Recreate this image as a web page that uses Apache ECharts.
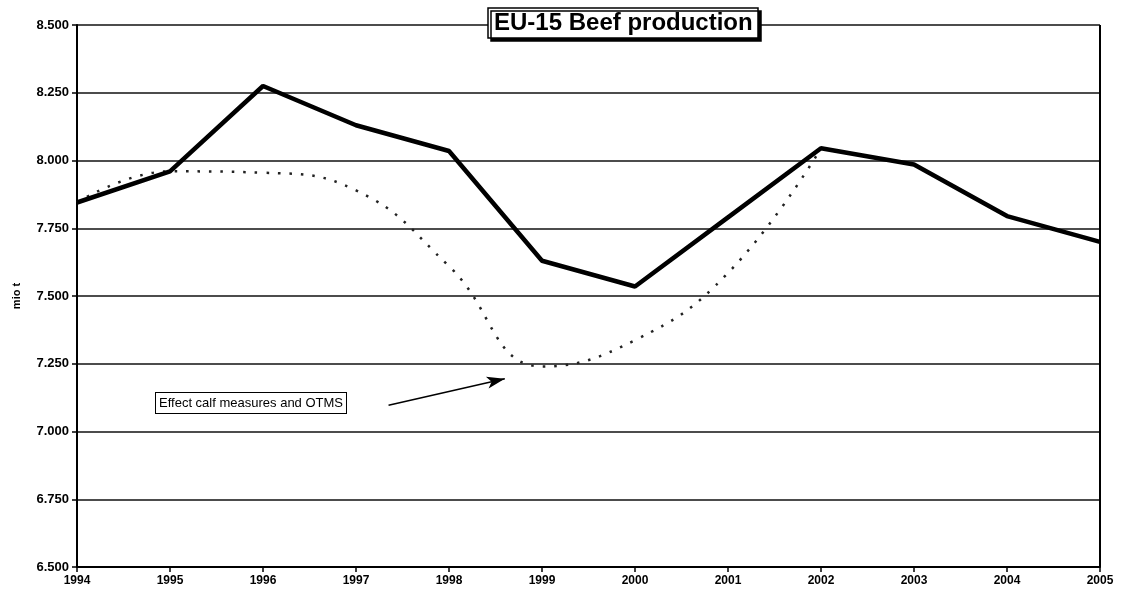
<!DOCTYPE html>
<html>
<head>
<meta charset="utf-8">
<title>EU-15 Beef production</title>
<script src="https://cdn.jsdelivr.net/npm/echarts@6/dist/echarts.min.js"></script>
<style>
  html, body { margin: 0; padding: 0; background: #fff; }
  #main { width: 1124px; height: 599px; }
</style>
</head>
<body>
<div id="main"></div>
<script>
  // years on the x axis
  var years = [1994, 1995, 1996, 1997, 1998, 1999, 2000, 2001, 2002, 2003, 2004, 2005]
  // production, mio t
  var production = [7.845, 7.96, 8.275, 8.13, 8.035, 7.63, 7.535, 7.79, 8.045, 7.985, 7.795, 7.70]
  // without calf measures and OTMS (dotted curve)
  var withoutMeasures = [7.845, 7.96, 7.955, 7.89, 7.61, 7.24, 7.337, 7.585, 8.045, null, null, null]
  // arrow of the note, in axis units [year, value]
  var arrowFrom = [1997.35, 7.097]
  var arrowTo = [1998.60, 7.195]

  var font = '"Liberation Sans", Arial, sans-serif'

  function pairs(vals){
    let out = []
    for(let i in years){
      out.push([years[i], vals[i]])
    }
    return out
  }

  var myChart = echarts.init(document.getElementById('main'))

  var option = {
    backgroundColor: '#fff',
    animation: false,
    title: {
      text: 'EU-15 Beef production',
      left: 488,
      top: 8,
      padding: [3, 6, 3, 6],
      backgroundColor: '#fff',
      borderColor: '#000',
      borderWidth: 1.5,
      shadowColor: '#000',
      shadowOffsetX: 3,
      shadowOffsetY: 3,
      shadowBlur: 0,
      textStyle: {
        fontFamily: font,
        fontSize: 24,
        fontWeight: 'bold',
        color: '#000'
      }
    },
    grid: {
      left: 77,
      right: 24,
      top: 25,
      bottom: 32
    },
    xAxis: {
      type: 'value',
      min: 1994,
      max: 2005,
      interval: 1,
      axisLine: { lineStyle: { color: '#000', width: 2 } },
      axisTick: { show: true, length: 5, lineStyle: { color: '#000', width: 1.5 } },
      axisLabel: {
        margin: 8,
        fontFamily: font,
        fontSize: 12,
        fontWeight: 'bold',
        color: '#000',
        formatter: function (v) { return String(v) }
      },
      splitLine: { show: false }
    },
    yAxis: {
      type: 'value',
      min: 6.5,
      max: 8.5,
      interval: 0.25,
      name: 'mio t',
      nameLocation: 'middle',
      nameGap: 55,
      nameRotate: 90,
      nameTextStyle: {
        fontFamily: font,
        fontSize: 11,
        fontWeight: 'bold',
        color: '#000'
      },
      axisLine: { show: true, lineStyle: { color: '#000', width: 2 } },
      axisTick: { show: true, length: 5, lineStyle: { color: '#000', width: 1.5 } },
      axisLabel: {
        margin: 8,
        fontFamily: font,
        fontSize: 13,
        fontWeight: 'bold',
        color: '#000',
        formatter: function (v) { return v.toFixed(3) }
      },
      splitLine: { show: true, lineStyle: { color: '#111', width: 1.5 } }
    },
    graphic: [
      {
        // right border of the plot
        type: 'line',
        shape: { x1: 1100, y1: 25, x2: 1100, y2: 567 },
        style: { stroke: '#000', lineWidth: 2 },
        z: 10
      },
      {
        type: 'text',
        left: 155,
        top: 392,
        style: {
          text: 'Effect calf measures and OTMS',
          font: '13px ' + font,
          fill: '#000',
          backgroundColor: '#fff',
          borderColor: '#000',
          borderWidth: 1,
          padding: [4, 3, 3, 3]
        },
        z: 10
      }
    ],
    series: [
      {
        name: 'without measures',
        type: 'line',
        data: pairs(withoutMeasures),
        smooth: 0.45,
        symbol: 'none',
        connectNulls: false,
        lineStyle: { color: '#222', width: 2.5, type: [2.5, 9] },
        z: 2
      },
      {
        name: 'production',
        type: 'line',
        data: pairs(production),
        symbol: 'none',
        lineStyle: { color: '#000', width: 4.5 },
        z: 3,
        markLine: {
          silent: true,
          symbol: ['none', 'arrow'],
          symbolSize: [9, 18],
          label: { show: false },
          lineStyle: { color: '#000', width: 1.5, type: 'solid' },
          data: [[{ coord: arrowFrom }, { coord: arrowTo }]]
        }
      }
    ]
  }

  myChart.setOption(option)
</script>
</body>
</html>
